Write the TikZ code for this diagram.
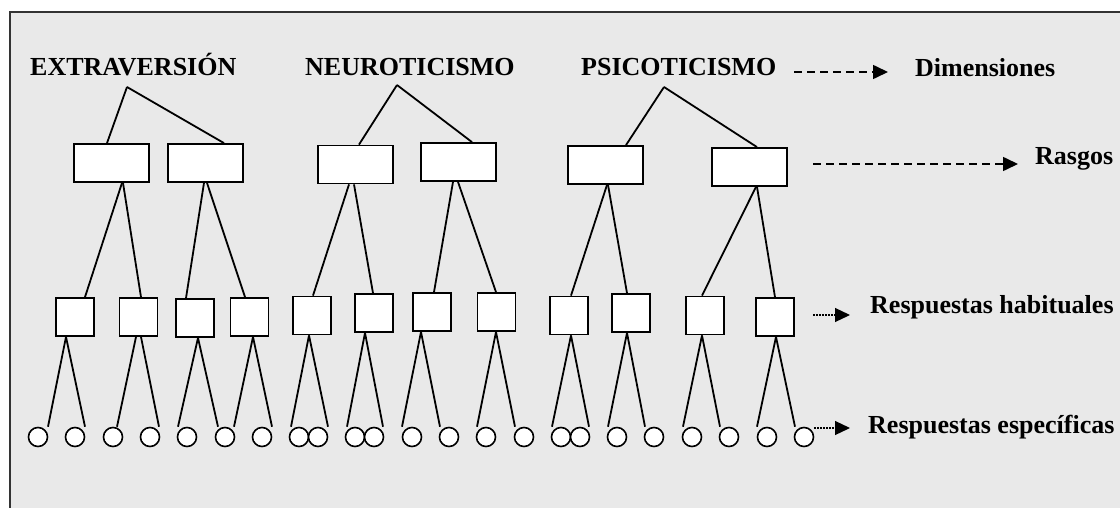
\documentclass[tikz,border=0pt]{standalone}
\usepackage{fontspec}
\setmainfont{Liberation Serif}
\usetikzlibrary{arrows.meta}
\definecolor{bgcol}{HTML}{E9E9E9}
\definecolor{framecol}{HTML}{333333}
\tikzset{
  lbl/.style={anchor=base west, inner sep=0pt, font=\fontsize{26}{30}\selectfont\bfseries},
  rasgo/.style={draw, line width=1.8pt, fill=white, minimum width=75pt, minimum height=38pt, inner sep=0pt},
  habit/.style={draw, line width=1.8pt, fill=white, minimum width=38pt, minimum height=38pt, inner sep=0pt},
  espec/.style={draw, circle, line width=1.6pt, fill=white, minimum size=19pt, inner sep=0pt},
  link/.style={line width=1.8pt},
  dasharrow/.style={line width=1.6pt, dash pattern=on 8pt off 5pt, -{Triangle[length=15pt,width=14pt]}},
  dotarrow/.style={line width=1.2pt, dash pattern=on 1.5pt off 1.5pt, -{Triangle[length=15pt,width=14pt]}}
}
\begin{document}
\begin{tikzpicture}[x=1pt, y=-1pt]
\clip (0,0) rectangle (1120,508);
\fill[bgcol] (10,12) rectangle (1140,530);
\draw[framecol, line width=1.3pt] (10,530) -- (10,12) -- (1140,12);

% dimension labels
\node[lbl] (ext) at (30,76) {EXTRAVERSIÓN};
\node[lbl] (neu) at (305,76) {NEUROTICISMO};
\node[lbl] (psi) at (581,76) {PSICOTICISMO};
\node[lbl] (dim) at (915,77) {Dimensiones};
\node[lbl] (ras) at (1035,165) {Rasgos};
\node[lbl] (hab) at (870,313) {Respuestas habituales};
\node[lbl] (esp) at (868,433) {Respuestas específicas};

\coordinate (extA) at (127,87);
\coordinate (neuA) at (397,85);
\coordinate (psiA) at (664,87);

% rasgos
\node[rasgo] (r1) at (111.5,163) {};
\node[rasgo] (r2) at (205.5,163) {};
\node[rasgo] (r3) at (355.5,164.5) {};
\node[rasgo] (r4) at (458.5,162) {};
\node[rasgo] (r5) at (605.5,165) {};
\node[rasgo] (r6) at (749.5,167) {};

% respuestas habituales
\node[habit] (ha) at (75,317) {};
\node[habit] (hb) at (138.5,317) {};
\node[habit] (hc) at (195,318) {};
\node[habit] (hd) at (249.5,317) {};
\node[habit] (he) at (312,315.5) {};
\node[habit] (hf) at (374,313) {};
\node[habit] (hg) at (432,312) {};
\node[habit] (hh) at (496.5,312) {};
\node[habit] (hi) at (569,315.5) {};
\node[habit] (hj) at (631,313) {};
\node[habit] (hk) at (705,315.5) {};
\node[habit] (hl) at (775,317) {};

% respuestas especificas
\foreach \i/\x in {1/38,2/75,3/113,4/150,5/187,6/225,7/262,8/299,9/318,10/355,11/374,12/412,13/449,14/486,15/524,16/561,17/580,18/617,19/654,20/692,21/729,22/767,23/804}
  \node[espec] (c\i) at (\x,437) {};

% dimension -> rasgos
\draw[link] (extA) -- ([xshift=-4.5pt]r1.north);
\draw[link] (extA) -- ([xshift=18.5pt]r2.north);
\draw[link] (neuA) -- ([xshift=3.5pt]r3.north);
\draw[link] (neuA) -- ([xshift=13.5pt]r4.north);
\draw[link] (psiA) -- ([xshift=20.5pt]r5.north);
\draw[link] (psiA) -- ([xshift=7.5pt]r6.north);

% rasgos -> habituales
\draw[link] ([xshift=10.5pt]r1.south) -- ([xshift=10pt]ha.north);
\draw[link] ([xshift=11.5pt]r1.south) -- ([xshift=2.5pt]hb.north);
\draw[link] ([xshift=-1.5pt]r2.south) -- ([xshift=-9pt]hc.north);
\draw[link] ([xshift=1.5pt]r2.south) -- ([xshift=-4.5pt]hd.north);
\draw[link] ([xshift=-6.5pt]r3.south) -- ([xshift=1pt]he.north);
\draw[link] ([xshift=-1.5pt]r3.south) -- ([xshift=-1pt]hf.north);
\draw[link] ([xshift=-5.5pt]r4.south) -- ([xshift=2pt]hg.north);
\draw[link] ([xshift=-0.5pt]r4.south) -- ([xshift=-0.5pt]hh.north);
\draw[link] ([xshift=1.5pt]r5.south) -- ([xshift=2pt]hi.north);
\draw[link] ([xshift=2.5pt]r5.south) -- ([xshift=-4pt]hj.north);
\draw[link] ([xshift=6.5pt]r6.south) -- ([xshift=-3pt]hk.north);
\draw[link] ([xshift=7.5pt]r6.south) -- (hl.north);

% habituales -> especificas
\draw[link] ([xshift=-9pt]ha.south) -- ([xshift=10pt]c1.north);
\draw[link] ([xshift=-9pt]ha.south) -- ([xshift=10pt]c2.north);
\draw[link] ([xshift=-2.5pt]hb.south) -- ([xshift=4pt]c3.north);
\draw[link] ([xshift=2.5pt]hb.south) -- ([xshift=9pt]c4.north);
\draw[link] ([xshift=3pt]hc.south) -- ([xshift=-9pt]c5.north);
\draw[link] ([xshift=3pt]hc.south) -- ([xshift=-7pt]c6.north);
\draw[link] ([xshift=3.5pt]hd.south) -- ([xshift=9pt]c6.north);
\draw[link] ([xshift=3.5pt]hd.south) -- ([xshift=10pt]c7.north);
\draw[link] ([xshift=-3pt]he.south) -- ([xshift=-8pt]c8.north);
\draw[link] ([xshift=-3pt]he.south) -- ([xshift=10pt]c9.north);
\draw[link] ([xshift=-9pt]hf.south) -- ([xshift=-8pt]c10.north);
\draw[link] ([xshift=-9pt]hf.south) -- ([xshift=9pt]c11.north);
\draw[link] ([xshift=-11pt]hg.south) -- ([xshift=-10pt]c12.north);
\draw[link] ([xshift=-11pt]hg.south) -- ([xshift=-9pt]c13.north);
\draw[link] ([xshift=-0.5pt]hh.south) -- ([xshift=-9pt]c14.north);
\draw[link] ([xshift=-0.5pt]hh.south) -- ([xshift=-9pt]c15.north);
\draw[link] ([xshift=2pt]hi.south) -- ([xshift=-9pt]c16.north);
\draw[link] ([xshift=2pt]hi.south) -- ([xshift=9pt]c17.north);
\draw[link] ([xshift=-4pt]hj.south) -- ([xshift=-9pt]c18.north);
\draw[link] ([xshift=-4pt]hj.south) -- ([xshift=-9pt]c19.north);
\draw[link] ([xshift=-3pt]hk.south) -- ([xshift=-9pt]c20.north);
\draw[link] ([xshift=-3pt]hk.south) -- ([xshift=-9pt]c21.north);
\draw[link] ([xshift=1pt]hl.south) -- ([xshift=-10pt]c22.north);
\draw[link] ([xshift=1pt]hl.south) -- ([xshift=-9pt]c23.north);

% legend arrows
\coordinate (a1s) at (794,72);
\coordinate (a1e) at (888,72);
\coordinate (a2s) at (813,164);
\coordinate (a2e) at (1018,164);
\coordinate (a3s) at (813,315);
\coordinate (a3e) at (850,315);
\coordinate (a4s) at (814,428);
\coordinate (a4e) at (850,428);
\draw[dasharrow] (a1s) -- (a1e);
\draw[dasharrow] (a2s) -- (a2e);
\draw[dotarrow] (a3s) -- (a3e);
\draw[dotarrow] (a4s) -- (a4e);
\end{tikzpicture}
\end{document}
